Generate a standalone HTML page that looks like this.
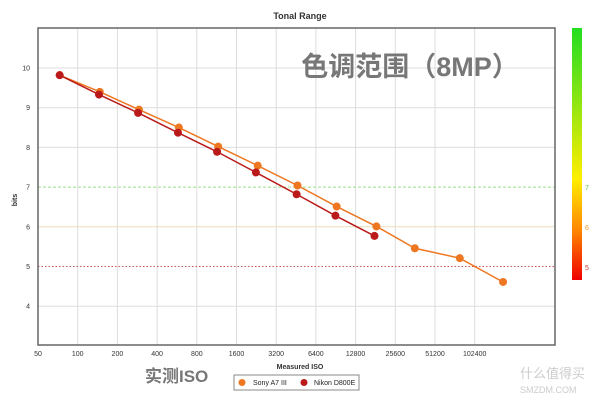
<!DOCTYPE html>
<html><head><meta charset="utf-8"><style>
body{margin:0;background:#fff;width:600px;height:400px;overflow:hidden;font-family:"Liberation Sans","Noto Sans CJK SC",sans-serif}
</style></head><body>
<svg id="c" width="600" height="400" style="position:absolute;left:0;top:0">
<defs><linearGradient id="g" x1="0" y1="0" x2="0" y2="1">
<stop offset="0" stop-color="#22dd22"/><stop offset="0.6" stop-color="#ffee00"/><stop offset="0.8" stop-color="#ff8800"/><stop offset="1" stop-color="#ee0000"/></linearGradient></defs>
<text x="300" y="19" text-anchor="middle" font-size="9" font-weight="bold" fill="#333">Tonal Range</text>
<g id="grid"></g>
<g id="marks"></g>
<rect x="38" y="28" width="517" height="317" fill="none" stroke="#666" stroke-width="1.5"/>
<text x="410" y="76" text-anchor="middle" font-size="27" font-weight="bold" fill="#777">色调范围（8MP）</text>
<text x="300" y="369" text-anchor="middle" font-size="7" font-weight="bold" fill="#333">Measured ISO</text>
<text x="17" y="200" text-anchor="middle" font-size="7" font-weight="bold" fill="#333" transform="rotate(-90 17 200)">bits</text>
<text x="145" y="382" font-size="17" font-weight="bold" fill="#777">实测ISO</text>
<rect x="572" y="28" width="10" height="252" fill="url(#g)"/>
<text x="585" y="190" font-size="7" fill="#66cc44">7</text>
<text x="585" y="230" font-size="7" fill="#ee9933">6</text>
<text x="585" y="270" font-size="7" fill="#cc3333">5</text>
<g>
<rect x="234" y="375" width="125" height="15" fill="#fff" stroke="#888"/>
<circle cx="242" cy="382.5" r="3.5" fill="#ee7722"/>
<text x="253" y="385" font-size="7" fill="#222">Sony A7 III</text>
<circle cx="304" cy="382.5" r="3.5" fill="#bb1a1a"/>
<text x="314" y="385" font-size="7" fill="#222">Nikon D800E</text>
</g>
<text x="520" y="378" font-size="13" fill="#ccc">什么值得买</text>
<text x="520" y="393" font-size="9" fill="#ccc">SMZDM.COM</text>
</svg>
<script>
const xTicks=[50,100,200,400,800,1600,3200,6400,12800,25600,51200,102400];
const yTicks=[4,5,6,7,8,9,10];
const sonyIso=[73,147,292,585,1162,2318,4640,9200,18400,36000,78900,168000];
const sonyBits=[9.82,9.40,8.95,8.50,8.02,7.54,7.04,6.51,6.01,5.46,5.21,4.61];
const nikonIso=[73,145,287,576,1140,2245,4570,9000,17800];
const nikonBits=[9.82,9.33,8.87,8.37,7.89,7.37,6.82,6.28,5.77];
const NS='http://www.w3.org/2000/svg';
const X=v=>38+Math.log2(v/50)*39.7;
const Y=v=>68+(10-v)*39.7;
const grid=document.getElementById('grid'),marks=document.getElementById('marks');
function mk(tag,a,p){const e=document.createElementNS(NS,tag);for(const k in a)e.setAttribute(k,a[k]);p.appendChild(e);return e;}
xTicks.forEach((t,i)=>{
 if(i>0){const l=mk('line',{x1:X(t),x2:X(t),y1:28,y2:345,stroke:'#ddd'},grid);
 
 }
 const tx=mk('text',{x:X(t),y:356,'text-anchor':'middle','font-size':7,fill:'#333'},grid);tx.textContent=t;
 
 
});
yTicks.forEach(t=>{
 let st='#ddd',da='';
 if(t===7){st='#99dd88';da='3,2';} if(t===6){st='#eeddbb';} if(t===5){st='#cc5555';da='1.5,2';}
 const l=mk('line',{x1:38,x2:555,y1:Y(t),y2:Y(t),stroke:st,'stroke-dasharray':da},grid);
 
 
 const tx=mk('text',{x:30,y:Y(t)+2.5,'text-anchor':'end','font-size':7,fill:'#333'},grid);tx.textContent=t;
 
 
});
function series(iso,bits,col,name){
 const pts=iso.map((v,i)=>X(v)+','+Y(bits[i])).join(' ');
 const pl=mk('polyline',{points:pts,fill:'none',stroke:col,'stroke-width':1.5},marks);
 
 
 iso.forEach((v,i)=>{const c=mk('circle',{cx:X(v),cy:Y(bits[i]),r:4,fill:col},marks);
 
 });
}
series(sonyIso,sonyBits,'#ee7722','sony');
series(nikonIso,nikonBits,'#bb1a1a','nikon');
</script>
</body></html>
